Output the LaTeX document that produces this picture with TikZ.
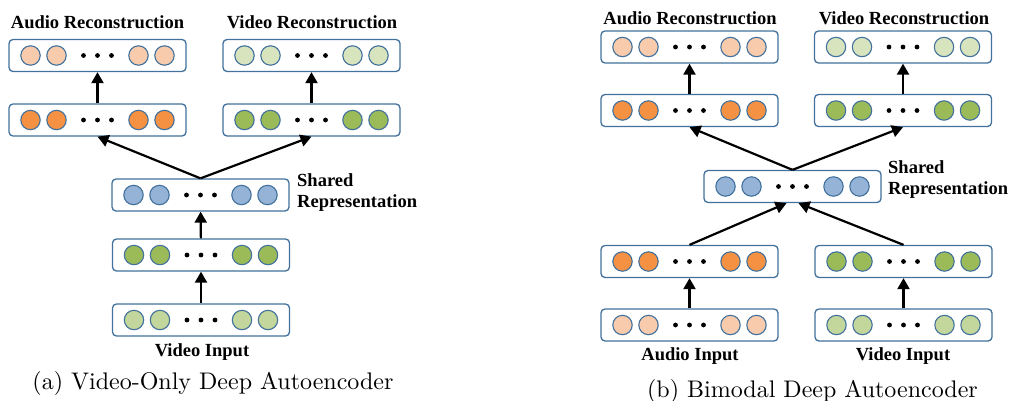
\documentclass[tikz,border=0pt]{standalone}
\usepackage{fontspec}
\newfontfamily\capfont{lmroman10-regular.otf}
\newfontfamily\labfont{Liberation Serif}
\usetikzlibrary{arrows.meta}

\definecolor{boxline}{HTML}{41719C}
\definecolor{audiolight}{HTML}{F8CBAD}
\definecolor{audiodark}{HTML}{F59143}
\definecolor{videolight}{HTML}{D8E4BE}
\definecolor{videoinput}{HTML}{C3D69B}
\definecolor{videodark}{HTML}{9BBB59}
\definecolor{sharedblue}{HTML}{95B3D7}

% one layer: name, centre, fill of the units
\newcommand{\layer}[3]{%
  \node [layerbox] (#1) at (#2) {};
  \foreach \dx in {-67,-41,41,67}
    \draw [unit, fill=#3] ([xshift=\dx pt]#1.center) circle (9.7pt);
  \foreach \dx in {-14,0,14}
    \fill ([xshift=\dx pt]#1.center) circle (2.4pt);
}

\begin{document}
\begin{tikzpicture}[x=1pt, y=-1pt]
\tikzset{ >={Triangle[length=11pt,width=12pt]},
  layerbox/.style={draw=boxline, fill=white, line width=1.3pt, rounded corners=4pt,
                   minimum width=177pt, minimum height=32pt, inner sep=0pt},
  unit/.style={draw=boxline, line width=1.1pt},
  link/.style={->, line width=2.2pt},
  lab/.style={font=\labfont\bfseries\fontsize{18.5}{21}\selectfont, inner sep=0pt},
  captext/.style={font=\capfont\fontsize{24}{28}\selectfont, inner sep=0pt},
}
\useasboundingbox (0,0) rectangle (1014,400);

%% (a) video only
\layer{recAa}{97.5,55.5}{audiolight}
\layer{recVa}{311.5,55.5}{videolight}
\layer{hidAa}{97.5,120}{audiodark}
\layer{hidVa}{311.5,120}{videodark}
\layer{shrda}{200.5,195}{sharedblue}
\layer{midVa}{201,255}{videodark}
\layer{inVa}{201,320}{videoinput}

\draw [link] (hidAa) -- (recAa);
\draw [link] (hidVa) -- (recVa);
\draw [link] (shrda.north) -- (hidAa.south);
\draw [link] (shrda.north) -- (hidVa.south);
\draw [link] (midVa) -- (shrda);
\draw [link] (inVa) -- (midVa);

\node [lab] (tAa) at (97.5,22) {Audio Reconstruction};
\node [lab] (tVa) at (312,22) {Video Reconstruction};
\node [lab, anchor=west, align=left] (tSa) at (297,193) {Shared\\Representation};
\node [lab] (tIa) at (202,352) {Video Input};
\node [captext] (capa) at (213,383) {(a) Video-Only Deep Autoencoder};

%% (b) bimodal
\layer{recAb}{689.5,47}{audiolight}
\layer{recVb}{903,47}{videolight}
\layer{hidAb}{689.5,110.5}{audiodark}
\layer{hidVb}{903,110.5}{videodark}
\layer{shrdb}{792.5,186.5}{sharedblue}
\layer{midAb}{689.5,261.5}{audiodark}
\layer{midVb}{903.5,261.5}{videodark}
\layer{inAb}{689.5,325}{audiolight}
\layer{inVb}{903.5,325}{videoinput}

\draw [link] (hidAb) -- (recAb);
\draw [link] (hidVb) -- (recVb);
\draw [link] (shrdb.north) -- (hidAb.south);
\draw [link] (shrdb.north) -- (hidVb.south);
\draw [link] (midAb.north) -- ([xshift=-6pt]shrdb.south);
\draw [link] (midVb.north) -- ([xshift=6pt]shrdb.south);
\draw [link] (inAb) -- (midAb);
\draw [link] (inVb) -- (midVb);

\node [lab] (tAb) at (690,18) {Audio Reconstruction};
\node [lab] (tVb) at (904,18) {Video Reconstruction};
\node [lab, anchor=west, align=left] (tSb) at (888,180) {Shared\\Representation};
\node [lab] (tIAb) at (690,356) {Audio Input};
\node [lab] (tIVb) at (903,356) {Video Input};
\node [captext] (capb) at (812.5,391) {(b) Bimodal Deep Autoencoder};

\end{tikzpicture}
\end{document}
